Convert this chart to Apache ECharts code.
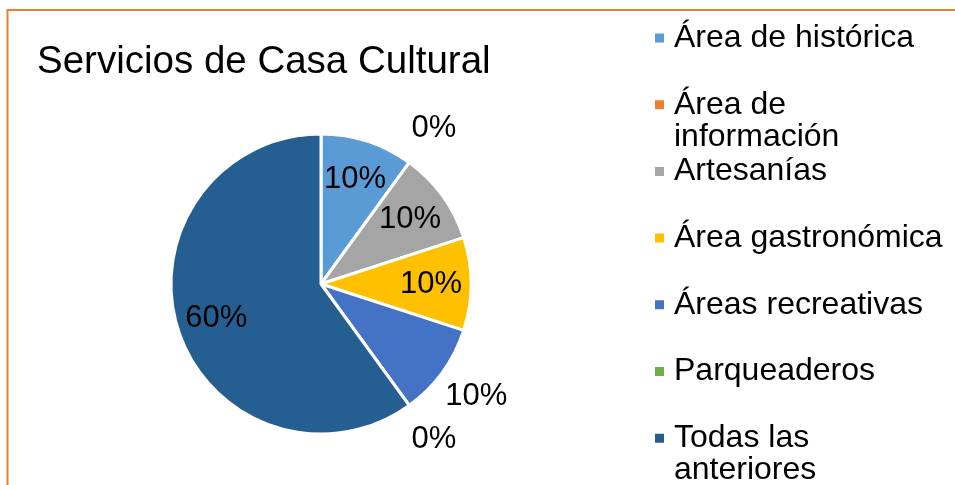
<!DOCTYPE html>
<html><head><meta charset="utf-8">
<script src="https://cdn.jsdelivr.net/npm/echarts@6/dist/echarts.min.js"></script>
<style>html,body{margin:0;padding:0;background:#fff}#c{width:955px;height:485px}</style>
</head><body><div id="c"></div>
<script>
const titleText = 'Servicios de Casa Cultural';
const categories = ['Área de histórica','Área de información','Artesanías','Área gastronómica','Áreas recreativas','Parqueaderos','Todas las anteriores'];
const legendLabels = ['Área de histórica','Área de\ninformación','Artesanías','Área gastronómica','Áreas recreativas','Parqueaderos','Todas las\nanteriores'];
const values = [10,0,10,10,10,0,60];
const colors = ['#5B9BD5','#ED7D31','#A5A5A5','#FFC000','#4472C4','#70AD47','#255E91'];
const outsideLabelCats = ['Área de información','Áreas recreativas','Parqueaderos'];

const FONT = "'Liberation Sans', Arial, sans-serif";
const center = [321, 284];
const LH = 32;

function labelData(showOutside) {
  return categories.map((n, i) => {
    const isOut = outsideLabelCats.indexOf(n) >= 0;
    return { name: n, value: values[i], label: { show: isOut === showOutside } };
  });
}
const labelCommon = {
  type: 'pie', center: center, startAngle: 90, clockwise: true, silent: true,
  animation: false, percentPrecision: 0, legendHoverLink: false,
  itemStyle: { color: 'rgba(0,0,0,0)', borderWidth: 0 },
  emphasis: { disabled: true },
  labelLine: { show: false }
};
const labelStyle = {
  position: 'inside', color: '#000', fontSize: 31, fontFamily: FONT,
  formatter: p => Math.round(p.percent) + '%'
};

// legend text: each item is laid out as 3 lines so the first text line sits beside the icon
function legendText(name) {
  const lbl = legendLabels[categories.indexOf(name)];
  return lbl.indexOf('\n') >= 0 ? '\n' + lbl : '\n' + lbl + '\n';
}

const chart = echarts.init(document.getElementById('c'), null, { renderer: 'canvas' });
chart.setOption({
  backgroundColor: '#fff',
  animation: false,
  color: colors,
  title: {
    text: titleText, left: 37, top: 43, padding: 0,
    textStyle: { fontSize: 38.5, fontWeight: 'normal', color: '#000', fontFamily: FONT }
  },
  legend: {
    orient: 'vertical', left: 653, top: 38 - 1.5 * LH, height: 800, padding: 0,
    itemGap: 66.7 - 3 * LH, icon: 'rect', itemWidth: 11, itemHeight: 11,
    selectedMode: false,
    data: categories,
    formatter: legendText,
    textStyle: { fontSize: 32, lineHeight: LH, padding: [0, 0, 0, 4], color: '#000', fontFamily: FONT }
  },
  graphic: [{
    type: 'rect', silent: true,
    shape: { x: 7.5, y: 10, width: 1200, height: 1200 },
    style: { fill: 'none', stroke: '#ED7D31', lineWidth: 2 }
  }],
  series: [
    {
      type: 'pie', center: center, radius: 150, startAngle: 90, clockwise: true,
      animation: false, emphasis: { disabled: true },
      itemStyle: { borderColor: '#fff', borderWidth: 3 },
      label: { show: false }, labelLine: { show: false },
      data: categories.map((n, i) => ({ name: n, value: values[i] }))
    },
    Object.assign({}, labelCommon, { radius: [0, 214], label: labelStyle, data: labelData(false) }),
    Object.assign({}, labelCommon, { radius: [0, 378], label: labelStyle, data: labelData(true) })
  ]
});
</script></body></html>
